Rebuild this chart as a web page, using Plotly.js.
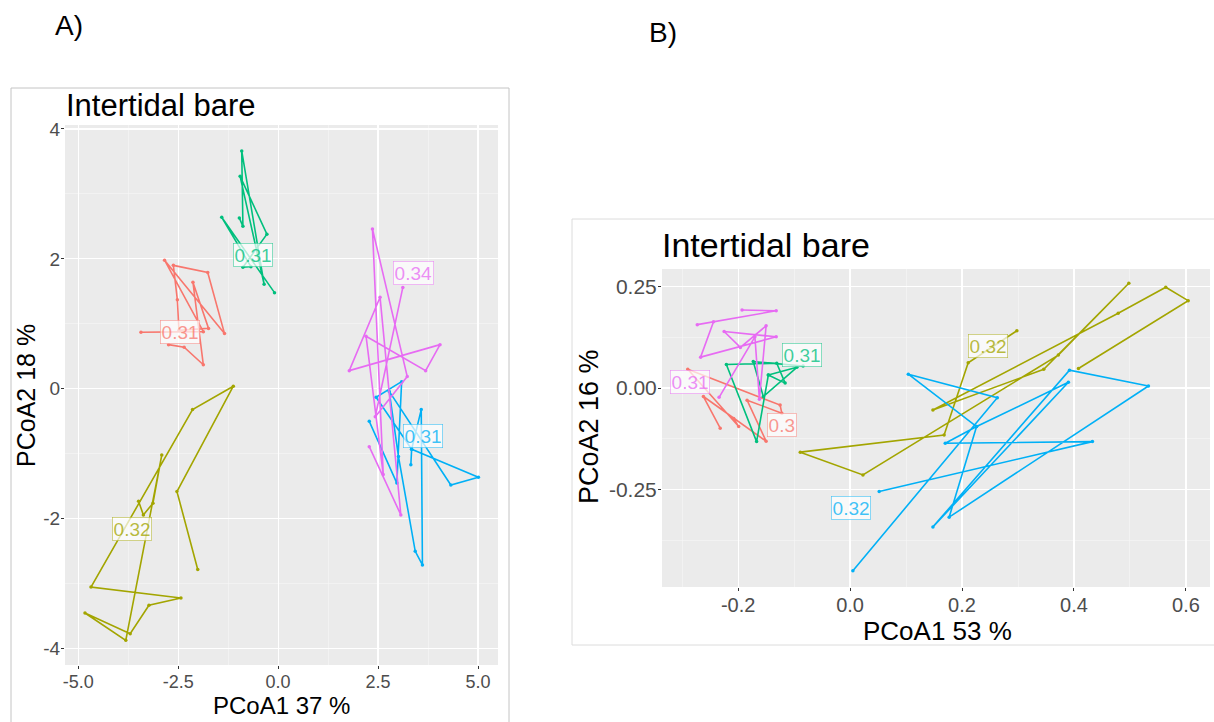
<!DOCTYPE html>
<html><head><meta charset="utf-8">
<script src="https://cdn.plot.ly/plotly-3.0.1.min.js"></script>
<style>html,body{margin:0;padding:0;background:#fff}#chart{width:1214px;height:722px}</style>
</head><body><div id="chart"></div>
<script>
// ---- Panel A (PCoA1 37 % / PCoA2 18 %) ----
const aRedX   = [-3.43,-1.87,-2.84,-1.34,-1.76,-2.62,-2.52,-2.48,-1.74,-2.13,-1.87,-2.35,-2.74];
const aRedY   = [0.87,0.88,1.98,0.85,1.79,1.90,1.37,0.90,0.93,1.64,0.37,0.64,0.68];
const aOliveX = [-2.01,-2.53,-1.12,-2.14,-4.68,-2.43,-3.23,-3.70,-4.83,-3.81,-2.91,-3.13,-3.37,-3.49];
const aOliveY = [-2.78,-1.58,0.04,-0.32,-3.05,-3.22,-3.33,-3.77,-3.45,-3.87,-1.02,-1.76,-1.94,-1.73];
const aGreenX = [-0.97,-0.88,-0.91,-0.35,-0.95,-0.28,-0.88,-0.68,-1.41,-0.09];
const aGreenY = [2.63,2.50,3.66,1.61,3.27,2.38,1.87,1.88,2.64,1.48];
const aBlueX  = [2.28,2.97,3.09,2.45,3.34,3.58,3.61,3.43,3.01,2.78,4.32,5.01,3.34,3.32];
const aBlueY  = [-0.50,-1.45,0.11,-0.13,-0.93,-0.32,-2.71,-2.50,-1.04,-0.04,-1.48,-1.36,-0.93,-1.17];
const aPinkX  = [2.28,3.07,2.55,1.78,4.05,3.69,2.20,2.63,2.36,3.23,2.43,3.12];
const aPinkY  = [-0.89,-1.94,1.41,0.28,0.68,0.28,0.81,-1.32,2.46,0.19,-0.43,1.56];
const aLabelText = ['0.31','0.32','0.31','0.31','0.34'];
const aLabelX    = [-2.45,-3.66,-0.62,3.63,3.38];
const aLabelY    = [0.87,-2.15,2.06,-0.73,1.78];

// ---- Panel B (PCoA1 53 % / PCoA2 16 %) ----
const bRedX   = [-0.232,-0.262,-0.150,-0.184,-0.122,-0.125,-0.290,-0.199,-0.208];
const bRedY   = [-0.099,-0.021,-0.131,-0.030,-0.062,-0.042,0.046,-0.095,-0.075];
const bOliveX = [0.298,0.211,0.168,-0.089,0.023,0.372,0.498,0.346,0.148,0.479,0.564,0.604,0.408];
const bOliveY = [0.141,0.062,-0.116,-0.158,-0.214,0.081,0.258,0.046,-0.054,0.184,0.248,0.215,0.048];
const bGreenX = [-0.084,-0.173,-0.155,-0.095,-0.146,-0.116,-0.131,-0.221,-0.167,-0.146];
const bGreenY = [0.054,0.065,-0.021,0.051,0.032,0.012,0.061,0.058,-0.132,0.032];
const bBlueX  = [0.005,0.263,0.104,0.226,0.390,0.148,0.392,0.533,0.177,0.226,0.170,0.433,0.052];
const bBlueY  = [-0.450,-0.024,0.034,-0.095,0.014,-0.342,0.044,0.005,-0.318,-0.095,-0.136,-0.132,-0.255];
const bPinkX  = [-0.193,-0.132,-0.273,-0.244,-0.267,-0.132,-0.225,-0.196,-0.150,-0.162,-0.170,-0.234];
const bPinkY  = [0.192,0.190,0.156,0.163,0.076,0.126,0.139,0.100,0.153,-0.028,0.126,-0.023];
const bLabelText = ['0.3','0.32','0.31','0.32','0.31'];
const bLabelX    = [-0.122,0.247,-0.086,0.002,-0.286];
const bLabelY    = [-0.091,0.103,0.081,-0.296,0.016];

const groupColors = ['#F8766D','#A3A500','#00BF7D','#00B0F6','#E76BF3'];
const labelTextColors = ['rgba(248,118,109,0.75)','rgba(163,165,0,0.75)','rgba(0,191,125,0.75)','rgba(0,176,246,0.75)','rgba(231,107,243,0.75)'];

const aTicksX = [-5,-2.5,0,2.5,5], aTickTextX = ['-5.0','-2.5','0.0','2.5','5.0'];
const aTicksY = [-4,-2,0,2,4], aTickTextY = ['-4','-2','0','2','4'];
const aMinorX = [-3.75,-1.25,1.25,3.75], aMinorY = [-3,-1,1,3];
const bTicksX = [-0.2,0,0.2,0.4,0.6], bTickTextX = ['-0.2','0.0','0.2','0.4','0.6'];
const bTicksY = [-0.25,0,0.25], bTickTextY = ['-0.25','0.00','0.25'];
const bMinorX = [-0.3,-0.1,0.1,0.3,0.5], bMinorY = [-0.375,-0.125,0.125];

const FONT = 'Liberation Sans, Arial, Helvetica, sans-serif';
const traces = [];
function addPath(xs, ys, ci, xa, ya){
  traces.push({type:'scatter', mode:'lines+markers', x:xs, y:ys, xaxis:xa, yaxis:ya,
    line:{color:groupColors[ci], width:1.6}, marker:{color:groupColors[ci], size:3.5},
    hoverinfo:'skip', showlegend:false});
}
[[aRedX,aRedY],[aOliveX,aOliveY],[aGreenX,aGreenY],[aBlueX,aBlueY],[aPinkX,aPinkY]].forEach((p,i)=>addPath(p[0],p[1],i,'x','y'));
[[bRedX,bRedY],[bOliveX,bOliveY],[bGreenX,bGreenY],[bBlueX,bBlueY],[bPinkX,bPinkY]].forEach((p,i)=>addPath(p[0],p[1],i,'x2','y2'));

const annotations = [];
function addLabels(texts, xs, ys, xr, yr){
  texts.forEach((t,i)=>annotations.push({x:xs[i], y:ys[i], xref:xr, yref:yr, text:t, showarrow:false,
    font:{family:FONT, size:19, color:labelTextColors[i]}, bgcolor:'rgba(255,255,255,0.7)',
    bordercolor:labelTextColors[i], borderwidth:0.6, borderpad:1}));
}
addLabels(aLabelText, aLabelX, aLabelY, 'x', 'y');
addLabels(bLabelText, bLabelX, bLabelY, 'x2', 'y2');

function paperText(text, px, py, size, xanchor, angle){
  annotations.push({text:text, x:px/1214, y:1-py/722, xref:'paper', yref:'paper', showarrow:false,
    xanchor:xanchor||'center', yanchor:'middle', textangle:angle||0, font:{family:FONT, size:size, color:'#000'}});
}
paperText('A)', 53, 25, 28, 'left');
paperText('B)', 647, 32, 28, 'left');
paperText('Intertidal bare', 64, 105, 31, 'left');
paperText('Intertidal bare', 660, 245, 34, 'left');
paperText('PCoA1 37 %', 281, 705, 24);
paperText('PCoA2 18 %', 26, 396, 25, 'center', -90);
paperText('PCoA1 53 %', 937, 631, 26);
paperText('PCoA2 16 %', 589, 427, 27, 'center', -90);

function axis(domain, range, tv, tt, minor, anchor, fs){
  return {domain:domain, range:range, anchor:anchor, tickmode:'array', tickvals:tv, ticktext:tt,
    showgrid:true, gridcolor:'#ffffff', gridwidth:1.2, zeroline:false, showline:false,
    ticks:'outside', ticklen:3, tickwidth:1, tickcolor:'#333333', ticklabelstandoff:-3,
    tickfont:{family:FONT, size:fs, color:'#4d4d4d'},
    minor:{tickmode:'array', tickvals:minor, showgrid:true, gridcolor:'#f7f7f7', gridwidth:0.6, ticks:''},
    fixedrange:true};
}

const layout = {
  width:1214, height:722, margin:{l:0,r:0,t:0,b:0}, paper_bgcolor:'#ffffff', plot_bgcolor:'#EBEBEB',
  showlegend:false, hovermode:false,
  xaxis: axis([65/1214, 498/1214], [-5.33,5.5], aTicksX, aTickTextX, aMinorX, 'y', 18),
  yaxis: axis([1-665/722, 1-125/722], [-4.25,4.06], aTicksY, aTickTextY, aMinorY, 'x', 19),
  xaxis2: axis([662/1214, 1210/1214], [-0.336,0.643], bTicksX, bTickTextX, bMinorX, 'y2', 20),
  yaxis2: axis([1-587/722, 1-269/722], [-0.49,0.293], bTicksY, bTickTextY, bMinorY, 'x2', 21),
  annotations: annotations,
  shapes: [
    {type:'rect', xref:'paper', yref:'paper', x0:11/1214, x1:509/1214, y0:-0.02, y1:1-88/722, line:{color:'#c4c4c4', width:1}},
    {type:'rect', xref:'paper', yref:'paper', x0:572/1214, x1:1.02, y0:1-645/722, y1:1-219/722, line:{color:'#dcdcdc', width:1}}
  ]
};
Plotly.newPlot('chart', traces, layout, {displayModeBar:false, staticPlot:true});
</script></body></html>
